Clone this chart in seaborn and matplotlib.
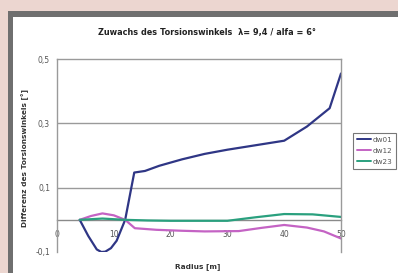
import pandas as pd
import numpy as np
import matplotlib
matplotlib.use("Agg")
import matplotlib.pyplot as plt
import seaborn as sns
from matplotlib.patches import Rectangle

# data
r_dw01 = [4, 5.5, 7, 7.8, 8.5, 9.5, 10.5, 12, 13.6, 15.5, 18, 22, 26, 30, 35, 40, 44, 48, 50]
v_dw01 = [0, -0.05, -0.092, -0.1, -0.099, -0.088, -0.065, 0, 0.147, 0.152, 0.168, 0.188, 0.205, 0.218, 0.232, 0.246, 0.29, 0.347, 0.455]

r_dw12 = [4, 6, 8, 10, 12, 13.7, 17.5, 22, 26, 32, 36, 40, 44, 47, 50]
v_dw12 = [0, 0.012, 0.02, 0.014, 0, -0.026, -0.031, -0.034, -0.036, -0.035, -0.025, -0.016, -0.024, -0.036, -0.058]

r_dw23 = [4, 8, 12, 16, 20, 25, 30, 35, 40, 45, 50]
v_dw23 = [0, 0.004, 0, -0.002, -0.003, -0.003, -0.003, 0.008, 0.018, 0.017, 0.009]

series = ["dw01", "dw12", "dw23"]
colors = ["#2f3685", "#c463c4", "#2aa07e"]

df = pd.concat([
    pd.DataFrame({"Radius": r_dw01, "Wert": v_dw01, "Reihe": "dw01"}),
    pd.DataFrame({"Radius": r_dw12, "Wert": v_dw12, "Reihe": "dw12"}),
    pd.DataFrame({"Radius": r_dw23, "Wert": v_dw23, "Reihe": "dw23"}),
], ignore_index=True)

sns.set_style("white")
plt.rcParams['font.family'] = ['DejaVu Sans']

fig = plt.figure(figsize=(3.98, 2.73), dpi=100)
fig.patch.set_facecolor("#ecd6d0")

# frame (gray border + white panel)
fig.add_artist(Rectangle((8 / 398, -0.1), 1.2, (273 - 11) / 273 + 0.1,
                         transform=fig.transFigure, facecolor="#6f6f6f", edgecolor="none", zorder=-10))
fig.add_artist(Rectangle((13 / 398, -0.1), 1.2, (273 - 17) / 273 + 0.1,
                         transform=fig.transFigure, facecolor="white", edgecolor="none", zorder=-9))

ax = fig.add_axes([57 / 398, 1 - 252 / 273, (341 - 57) / 398, (252 - 59) / 273])
ax.set_facecolor("white")

sns.lineplot(data=df, x="Radius", y="Wert", hue="Reihe", palette=dict(zip(series, colors)),
             sort=False, estimator=None, linewidth=1.6, ax=ax, legend=False)

ax.set_xlim(0, 50)
ax.set_ylim(-0.1, 0.5)
ax.set_yticks([-0.1, 0.1, 0.3, 0.5])
ax.set_yticklabels(["-0,1", "0,1", "0,3", "0,5"])
ax.set_xticks([0, 10, 20, 30, 40, 50])
ax.set_xticklabels(["0", "10", "20", "30", "40", "50"])

for yv in [0.1, 0.3]:
    ax.axhline(yv, color="#9a9a9a", lw=1.0, zorder=0)

for s in ["top", "right", "left"]:
    ax.spines[s].set_color("#9a9a9a")
    ax.spines[s].set_linewidth(1.0)
ax.spines["bottom"].set_position(("data", 0))
ax.spines["bottom"].set_color("#8a8a8a")
ax.spines["bottom"].set_linewidth(1.0)
ax.spines["bottom"].set_zorder(0.5)

ax.tick_params(axis="both", labelsize=5.5, labelcolor="#555555", color="#8a8a8a",
               length=3, width=0.8, direction="out", pad=2)
ax.tick_params(axis="x", pad=4)
ax.set_xlabel("")
ax.set_ylabel("")

fig.text(0.521, 1 - 32 / 273, "Zuwachs des Torsionswinkels  \u03bb= 9,4 / alfa = 6\u00b0",
         ha="center", va="center", fontsize=5.9, fontweight="bold", color="#222222")
fig.text(198 / 398, 1 - 267 / 273, "Radius [m]", ha="center", va="center",
         fontsize=5.3, fontweight="bold", color="#333333")
fig.text(25 / 398, 1 - 158 / 273, "Differenz des Torsionswinkels [\u00b0]", rotation=90,
         ha="center", va="center", fontsize=5.3, fontweight="bold", color="#333333")

handles = [plt.Line2D([], [], color=c, lw=1.4) for c in colors]
leg = fig.legend(handles, series, loc="upper left", bbox_to_anchor=(353 / 398, 1 - 133 / 273),
                 fontsize=5.2, frameon=True, fancybox=False, handlelength=2.0,
                 handletextpad=0.15, borderpad=0.5, borderaxespad=0, labelspacing=0.7)
leg.get_frame().set_edgecolor("#555555")
leg.get_frame().set_linewidth(0.8)
for t in leg.get_texts():
    t.set_color("#555555")

fig.savefig("out.png", dpi=100, facecolor=fig.get_facecolor())
